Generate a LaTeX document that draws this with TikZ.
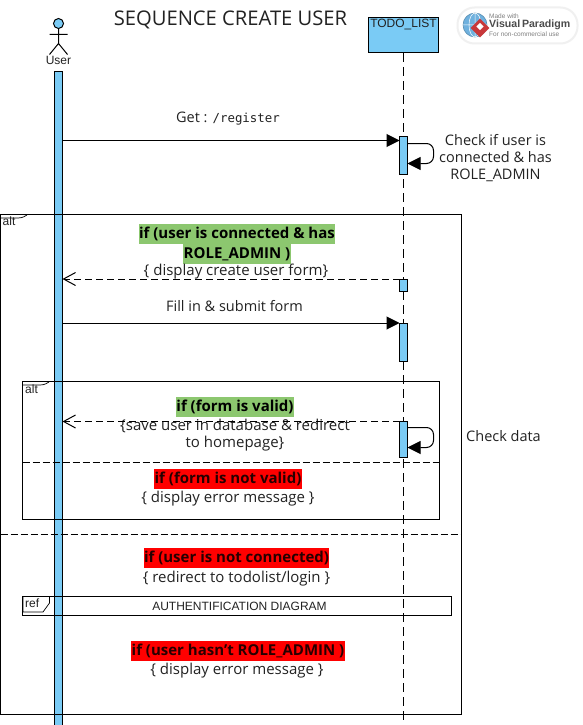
\documentclass[tikz,border=0pt]{standalone}
\usepackage{fontspec}
\setmainfont{Open Sans}
\newfontfamily\lab{Liberation Sans}
\newfontfamily\cod{DejaVu Sans Mono}
\usetikzlibrary{arrows.meta,shapes.geometric}
\definecolor{barblue}{HTML}{7ACBF5}
\definecolor{okgreen}{HTML}{8CC76F}
\definecolor{txt}{HTML}{222222}
\definecolor{globeblue}{HTML}{6FB1DE}
\definecolor{vpred}{HTML}{C8383A}
\tikzset{
  lifebar/.style={draw=black,fill=barblue,line width=1pt,minimum width=8pt,inner sep=0pt,outer sep=0pt},
  body/.style={font=\fontsize{15}{17}\selectfont,text=txt,align=center,inner sep=0pt},
  small/.style={font=\fontsize{14.5}{17}\selectfont,text=txt,align=center,inner sep=0pt},
  green/.style={font=\fontsize{15}{20}\selectfont\bfseries,text=black,fill=okgreen,inner xsep=0.5pt,inner ysep=0pt,text height=14.5pt,text depth=5.5pt},
  redbox/.style={font=\fontsize{15}{20}\selectfont\bfseries,text=black!85!red,fill=red,inner xsep=0.5pt,inner ysep=0pt,text height=14.5pt,text depth=5.5pt},
  frm/.style={draw=black,line width=1pt},
  lablbl/.style={font=\lab\fontsize{12}{12}\selectfont,text=txt,inner sep=0pt},
  sync/.style={draw=black,line width=1pt,-{Triangle[length=13pt,width=13pt]}},
  retn/.style={draw=black,line width=1pt,dash pattern=on 7pt off 4pt,-{Straight Barb[length=12pt,width=13pt]}},
  selfc/.style={draw=black,line width=1pt,rounded corners=7pt,-{Triangle[length=13pt,width=13pt,sharp]}},
}
\begin{document}
\begin{tikzpicture}[x=1pt,y=-1pt]
\useasboundingbox (0,0) rectangle (582,725);
\fill[white] (0,0) rectangle (582,725);
% title
\node[font=\fontsize{20.2}{24}\selectfont,text=txt,inner sep=0pt] (title) at (230.5,20) {SEQUENCE CREATE USER};
% actor
\node[draw=black,fill=barblue,circle,line width=1pt,minimum size=10pt,inner sep=0pt] (head) at (58.5,23.5) {};
\coordinate (hip) at (58.5,43.5);
\coordinate (armL) at (49.5,34.5);
\coordinate (armR) at (67.5,34.5);
\coordinate (footL) at (49.5,54.5);
\coordinate (footR) at (67.5,54.5);
\draw[line width=1pt] (head.south) -- (hip) (armL) -- (armR) (footL) -- (hip) -- (footR);
\node[lablbl] (user) at (58.5,60.5) {User};
% lifelines
\node[lifebar,minimum height=654pt] (ubar) at (58.5,398) {};
\node[draw=black,fill=barblue,line width=1pt,minimum width=70pt,minimum height=35pt,inner sep=0pt,outer sep=0pt] (todo) at (403.5,35.5) {};
\node[lablbl] (todol) at (403.5,25) {TODO\_LIST};
\coordinate (todoend) at (403.5,722);
\draw[line width=1pt,dash pattern=on 9pt off 5pt] (todo.south) -- (todoend);
% activations
\node[lifebar,minimum height=38pt] (a1) at (403.5,155.5) {};
\node[lifebar,minimum height=12pt] (a2) at (403.5,285) {};
\node[lifebar,minimum height=38pt] (a3) at (403.5,342) {};
\node[lifebar,minimum height=36pt] (a4) at (403.5,439.5) {};
% frames
\node[frm,minimum width=461pt,minimum height=500pt,inner sep=0pt,outer sep=0pt] (outer) at (231,464.5) {};
\node[frm,minimum width=417pt,minimum height=137.5pt,inner sep=0pt,outer sep=0pt] (inner) at (231,450.25) {};
\node[frm,minimum width=429pt,minimum height=19pt,inner sep=0pt,outer sep=0pt] (refb) at (237,606) {};
\draw[line width=1pt,dash pattern=on 7pt off 3pt] (outer.west |- 0,534) -- (outer.east |- 0,534);
\draw[line width=1pt,dash pattern=on 7pt off 3pt] (inner.west |- 0,462.5) -- (inner.east |- 0,462.5);
% tabs
\draw[line width=.7pt] (1,218) -- (18,218) .. controls (23,218) and (25,216) .. (27,215);
\node[lablbl,anchor=west] (alt1) at (2.5,221) {alt};
\draw[line width=.7pt] (23,385) -- (40,385) .. controls (45,385) and (47,383) .. (49,382);
\node[lablbl,anchor=west] (alt2) at (25,389) {alt};
\draw[line width=.7pt] (23,596.5) -- (23,612) -- (43,612) -- (49.5,603) -- (49.5,596.5);
\node[lablbl,anchor=west] (ref1) at (25,603) {ref};
\node[lablbl] (reft) at (239.5,606) {AUTHENTIFICATION DIAGRAM};
% texts
\node[small] (t1) at (228,118.5) {Get : {\cod\fontsize{12.4}{12}\selectfont /register}};
\node[small,anchor=center] (t2) at (495.5,158.5) {Check if user is\\connected \& has\\ROLE\_ADMIN};
\node[green] (g1) at (237,234) {if (user is connected \& has};
\node[green] (g2) at (237,254) {ROLE\_ADMIN )};
\node[body] (t3) at (236,271.5) {\{ display create user form\}};
\node[small] (t4) at (234.5,306.5) {Fill in \& submit form};
\node[green] (g3) at (235,407) {if (form is valid)};
\node[body] (t5) at (235,435.5) {\{save user in database \& redirect\\to homepage\}};
\node[redbox] (r1) at (228,478.5) {if (form is not valid)};
\node[body] (t6) at (228,498.5) {\{ display error message \}};
\node[redbox] (r2) at (236.5,558) {if (user is not connected)};
\node[body] (t7) at (236.5,578.5) {\{ redirect to todolist/login \}};
\node[redbox] (r3) at (238,651) {if (user hasn't ROLE\_ADMIN )};
\node[body] (t8) at (237,671) {\{ display error message \}};
\node[small] (t9) at (503.5,436.5) {Check data};
% messages
\draw[sync] (ubar.east |- 0,140.5) -- (a1.west |- 0,140.5);
\draw[retn] (a2.north west) -- (ubar.east |- a2.north);
\draw[sync] (ubar.east |- 0,323) -- (a3.north west);
\draw[retn] (a4.north west) -- (ubar.east |- a4.north);
\draw[selfc] (a1.east |- 0,143.5) -- (433.5,143.5) -- (433.5,163.5) -- (a1.east |- 0,163.5);
\draw[selfc] (a4.east |- 0,427.5) -- (433.5,427.5) -- (433.5,447.5) -- (a4.east |- 0,447.5);
% logo
\node[draw=black!6,fill=white,rounded corners=17pt,line width=2pt,minimum width=120pt,minimum height=36pt,inner sep=0pt] (pill) at (517.5,25.5) {};
\node[circle,fill=globeblue,draw=globeblue!80!black,line width=.6pt,minimum size=24pt,inner sep=0pt] (globe) at (475,25) {};
\draw[white,line width=.5pt] (globe.west) -- (globe.east) (globe.north) -- (globe.south) (475,25) ellipse (6 and 12);
\node[diamond,aspect=1,fill=vpred,minimum size=19pt,inner sep=0pt] (dia) at (480,28) {};
\node[fill=white,minimum size=5pt,inner sep=0pt,rotate=45] (diac) at (480,26.5) {};
\node[font=\lab\fontsize{6.5}{7}\selectfont,text=gray,anchor=west,inner sep=0pt] (vp1) at (489,16) {Made with};
\node[font=\lab\bfseries\fontsize{10.6}{11}\selectfont,text=black!70,anchor=west,inner sep=0pt] (vp2) at (489,25) {Visual\,Paradigm};
\node[font=\lab\fontsize{6.5}{7}\selectfont,text=gray,anchor=west,inner sep=0pt] (vp3) at (489,34.5) {For non-commercial use};
\end{tikzpicture}
\end{document}
